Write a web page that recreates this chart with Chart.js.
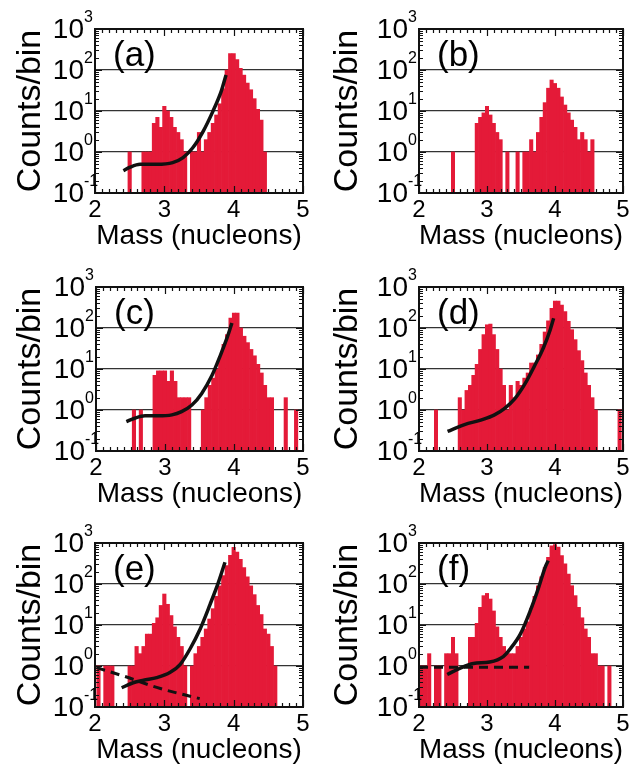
<!DOCTYPE html>
<html lang="en">
<head>
<meta charset="UTF-8">
<title>Mass spectra</title>
<script src="https://cdn.jsdelivr.net/npm/chart.js@4.4.1/dist/chart.umd.min.js"></script>
<style>
  body { margin: 0; background: #fff; }
  #wrap { position: relative; width: 634px; height: 772px; }
  #wrap canvas { position: absolute; }
</style>
</head>
<body>
<div id="wrap">
  <canvas id="pa" width="317" height="257" style="left:0;top:0"></canvas>
  <canvas id="pb" width="317" height="257" style="left:317px;top:0"></canvas>
  <canvas id="pc" width="317" height="257" style="left:0;top:258px"></canvas>
  <canvas id="pd" width="317" height="257" style="left:317px;top:258px"></canvas>
  <canvas id="pe" width="317" height="257" style="left:0;top:514px"></canvas>
  <canvas id="pf" width="317" height="257" style="left:317px;top:514px"></canvas>
</div>
<script>
// bin centres (nucleons)
var massBins = [2.00,2.05,2.10,2.15,2.20,2.25,2.30,2.35,2.40,2.45,
                2.50,2.55,2.60,2.65,2.70,2.75,2.80,2.85,2.90,2.95,
                3.00,3.05,3.10,3.15,3.20,3.25,3.30,3.35,3.40,3.45,
                3.50,3.55,3.60,3.65,3.70,3.75,3.80,3.85,3.90,3.95,
                4.00,4.05,4.10,4.15,4.20,4.25,4.30,4.35,4.40,4.45,
                4.50,4.55,4.60,4.65,4.70,4.75,4.80,4.85,4.90,4.95,5.00];

var _ = null;
var countsA = [_,_,_,_,_,_,_,_,_,_,  1,_,_,_,1,1,1,5,7,4,  13,10,7,4,3,2,1,_,1,1,
               3,1,2,3,5,8,15,35,100,250,  250,180,110,75,48,33,20,11,6,1,  _,_,_,_,_,_,_,_,_,_,_];
var countsB = [_,_,_,_,_,_,_,_,_,_,  1,_,_,_,_,_,_,5,7,9,  13,8,5,3,2,_,1,_,_,1,
               _,1,1,2,1,3,7,16,36,57,  47,36,22,14,9,6,4,2,3,2,  1,2,_,_,_,_,_,_,_,_,_];
var countsC = [_,_,_,_,_,_,_,_,_,_,  _,1,_,1,_,_,_,7,9,9,  9,5,9,5,2,2,2,2,_,_,
               _,1,2,4,6,10,20,40,69,174,  230,230,100,63,44,30,21,13,8,4,  2,2,_,_,_,2,_,_,1,_,_];
var countsD = [_,_,_,_,_,1,_,_,_,_,  _,_,2,1,3,4,7,13,30,69,  120,125,69,30,10,4,1,4,2,5,
               4,6,8,14,14,22,40,80,150,300,  455,455,363,251,145,91,52,28,16,8,  4,2,1,_,_,_,_,_,_,1,_];
var countsE = [_,1,_,1,1,1,_,_,_,_,  1,1,3,2,3,6,6,11,15,30,  57,32,17,9,5,3,1,_,1,2,
               3,5,8,14,25,50,90,160,280,500,  780,600,400,250,150,90,55,30,18,8,  6,3,1,_,_,_,_,_,_,_,_];
var countsF = [1,1,1,2,_,1,1,_,2,2,  5,2,_,_,_,5,5,11,27,52,  59,43,22,9,5,3,2,2,2,3,
               5,8,12,25,50,90,150,250,450,850,  920,790,495,310,175,91,52,27,15,8,  5,2,2,1,1,_,1,_,_,_,_];

// fitted curves
var fitAx = [2.41,2.50,2.65,2.89,3.12,3.27,3.41,3.56,3.70,3.82,3.89];
var fitAy = [0.35,0.42,0.50,0.50,0.55,0.73,1.27,3.2,9.8,30,76];
var fitCx = [2.44,2.56,2.71,2.90,3.10,3.24,3.39,3.53,3.68,3.80,3.90,3.97];
var fitCy = [0.52,0.63,0.72,0.72,0.76,0.91,1.32,2.5,6.9,21,58,132];
var fitDx = [2.42,2.67,2.92,3.11,3.26,3.41,3.56,3.70,3.83,3.93,3.98];
var fitDy = [0.30,0.44,0.575,0.76,1.1,1.9,4.4,12,33,91,174];
var fitEx = [2.385,2.55,2.70,2.89,3.08,3.23,3.37,3.515,3.66,3.78,3.875];
var fitEy = [0.295,0.39,0.45,0.52,0.69,1.1,2.6,7.9,32,110,340];
var bgEx = [2.02,2.41,2.89,3.51];
var bgEy = [0.91,0.57,0.30,0.16];
var fitFx = [2.415,2.60,2.80,3.04,3.24,3.34,3.49,3.635,3.76,3.855,3.90];
var fitFy = [0.62,0.88,1.15,1.25,1.7,2.6,6,22,83,256,372];
var bgFx = [2.0,2.8,3.62];
var bgFy = [0.93,0.93,0.93];

var xTicks = [2, 3, 4, 5];
var yPowers = [-1, 0, 1, 2, 3];

var RED = 'rgb(228,26,56)';
var FONT = '"Liberation Sans", Arial, sans-serif';
Chart.defaults.font.family = FONT;
Chart.defaults.color = '#000';

function pts(xs, ys) {
    return xs.map(function (v, i) { return {x: v, y: ys[i]}; });
}

function framePlugin(label) {
    return {
        id: 'frame',
        afterDatasetsDraw: function (chart) {
            var ctx = chart.ctx, a = chart.chartArea;
            var sx = chart.scales.x, sy = chart.scales.y;
            ctx.save();
            ctx.strokeStyle = '#111';
            ctx.lineWidth = 1.2;
            ctx.beginPath();
            for (var i = 0; i <= 30; i++) {
                var px = Math.round(sx.getPixelForValue(2 + i / 10)) + 0.5;
                var len = i % 10 === 0 ? 7 : 4;
                ctx.moveTo(px, a.bottom); ctx.lineTo(px, a.bottom - len);
                ctx.moveTo(px, a.top); ctx.lineTo(px, a.top + len);
            }
            for (var d = -1; d < 3; d++) {
                for (var m = 1; m < 10; m++) {
                    var py = Math.round(sy.getPixelForValue(m * Math.pow(10, d))) + 0.5;
                    var l2 = m === 1 ? 7 : 4;
                    ctx.moveTo(a.left, py); ctx.lineTo(a.left + l2, py);
                    ctx.moveTo(a.right, py); ctx.lineTo(a.right - l2, py);
                }
            }
            ctx.stroke();
            ctx.lineWidth = 2;
            ctx.strokeRect(a.left, a.top, a.right - a.left, a.bottom - a.top);

            // y tick labels 10^n
            ctx.fillStyle = '#000';
            yPowers.forEach(function (p) {
                var y = sy.getPixelForValue(Math.pow(10, p));
                ctx.font = '28px ' + FONT;
                ctx.textAlign = 'right';
                ctx.textBaseline = 'middle';
                ctx.fillText('10', a.left - 11, y + 1);
                ctx.font = '16px ' + FONT;
                ctx.textAlign = 'left';
                ctx.fillText(String(p), a.left - 11, y - 11);
            });

            // panel letter
            ctx.font = '35px ' + FONT;
            ctx.textAlign = 'left';
            ctx.textBaseline = 'middle';
            ctx.fillText(label, a.left + 18, a.top + 27);
            ctx.restore();
        }
    };
}

function makePanel(id, label, counts, fits, leftW, rightPad) {
    var datasets = [];
    fits.forEach(function (f) {
        datasets.push({
            type: 'line',
            data: pts(f.xs, f.ys),
            borderColor: '#111',
            borderWidth: f.dash ? 3 : 3.5,
            borderDash: f.dash ? [9, 6] : [],
            pointRadius: 0,
            cubicInterpolationMode: 'monotone',
            fill: false,
            order: 1
        });
    });
    datasets.push({
        type: 'bar',
        data: pts(massBins, counts),
        backgroundColor: RED,
        borderWidth: 0,
        barPercentage: 1.0,
        categoryPercentage: 1.0,
        clip: 0,
        order: 2
    });

    new Chart(document.getElementById(id), {
        data: {datasets: datasets},
        options: {
            responsive: false,
            animation: false,
            devicePixelRatio: 1,
            layout: {padding: {left: 0, right: rightPad, top: 29, bottom: 0}},
            plugins: {legend: {display: false}, tooltip: {enabled: false}},
            scales: {
                x: {
                    type: 'linear',
                    min: 2, max: 5,
                    offset: false,
                    afterBuildTicks: function (s) { s.ticks = xTicks.map(function (v) { return {value: v}; }); },
                    afterFit: function (s) { s.height = 64; },
                    grid: {display: false, drawTicks: false},
                    border: {display: false},
                    ticks: {font: {size: 24}, padding: 3, maxRotation: 0, autoSkip: false},
                    title: {display: true, text: 'Mass (nucleons)', font: {size: 28}, padding: {top: 0, bottom: 4}}
                },
                y: {
                    type: 'logarithmic',
                    min: 0.1, max: 1000,
                    afterBuildTicks: function (s) { s.ticks = yPowers.map(function (p) { return {value: Math.pow(10, p)}; }); },
                    afterFit: function (s) { s.width = leftW; },
                    grid: {
                        drawTicks: false,
                        lineWidth: 1.2,
                        color: function (c) {
                            var v = c.tick ? c.tick.value : 0;
                            return (v > 0.5 && v < 500) ? '#333' : 'rgba(0,0,0,0)';
                        }
                    },
                    border: {display: false},
                    ticks: {display: false},
                    title: {display: true, text: 'Counts/bin', font: {size: 34}, padding: {top: 10, bottom: 0}}
                }
            }
        },
        plugins: [framePlugin(label)]
    });
}

makePanel('pa', '(a)', countsA, [{xs: fitAx, ys: fitAy}], 95, 14);
makePanel('pb', '(b)', countsB, [], 102, 11);
makePanel('pc', '(c)', countsC, [{xs: fitCx, ys: fitCy}], 96, 14);
makePanel('pd', '(d)', countsD, [{xs: fitDx, ys: fitDy}], 102, 11);
makePanel('pe', '(e)', countsE, [{xs: fitEx, ys: fitEy}, {xs: bgEx, ys: bgEy, dash: true}], 95, 14);
makePanel('pf', '(f)', countsF, [{xs: fitFx, ys: fitFy}, {xs: bgFx, ys: bgFy, dash: true}], 102, 11);
</script>
</body>
</html>
